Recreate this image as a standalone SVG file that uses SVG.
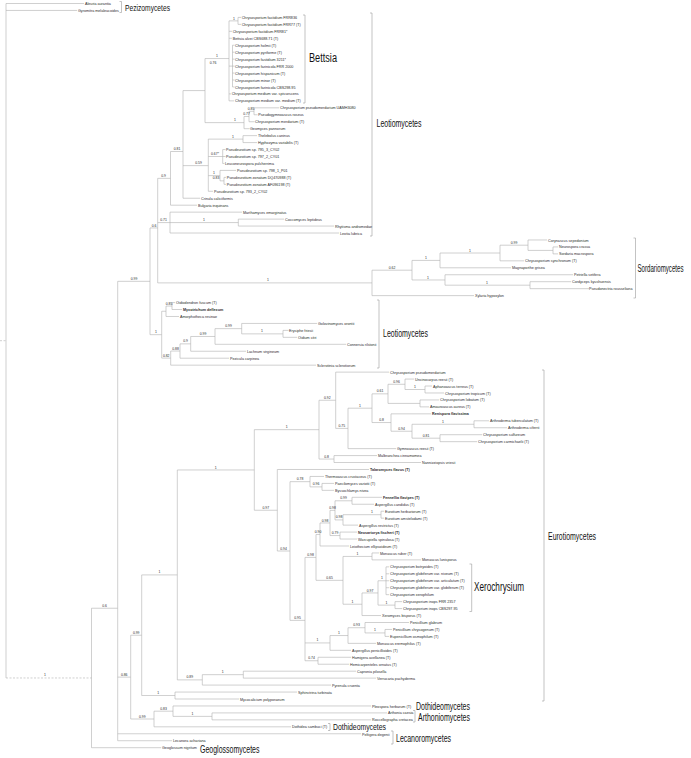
<svg xmlns="http://www.w3.org/2000/svg" width="691" height="758" viewBox="0 0 691 758">
<style>
text{font-family:"Liberation Sans",Arial,sans-serif;fill:#2a2a2a}
.t{font-size:3.7px}
.b{font-weight:bold}
.s{font-size:3.4px;fill:#555}
.c{font-size:10px;fill:#111}
.cl{font-size:12px;fill:#111}
.e{fill:none;stroke:#b0b0b0;stroke-width:0.6}
.k{fill:none;stroke:#9a9a9a;stroke-width:0.6}
</style>
<rect width="691" height="758" fill="#fff"/>
<g id="connectors">
<path class="e" d="M6,3.5V677.97M6,3.5H84M6,10.46H77
M91.5,608.24V747.69M91.5,608.24H117.7M91.5,747.69H161
M117.7,281.32V740.73M117.7,281.32H150M117.7,677.12H130.7M117.7,733.78H361M117.7,740.73H172
M150,227.95V334.68M150,227.95H157.7M150,334.68H161.7
M157.7,178.35V282.9M157.7,178.35H170.5M157.7,222.59H170M157.7,282.9H372
M170.5,151.49V205.2M170.5,151.49H183M170.5,205.2H197
M183,90.59V198.24M183,90.59H205M183,165.64H208.3M183,198.24H200
M205,58.56V122.61M205,58.56H229M205,122.61H244
M229,20.89V100.87M229,20.89H238M229,31.32H232M229,38.28H232M229,66.1H232.5M229,93.92H231M229,100.87H234
M238,17.41V24.37M238,17.41H241M238,24.37H241
M232.5,45.23V86.96M232.5,45.23H234.5M232.5,52.19H234.5M232.5,59.14H234.5M232.5,66.1H234.5M232.5,73.05H234.5M232.5,80.01H234.5M232.5,86.96H234.5
M244,116.52V128.69M244,116.52H249M244,128.69H249.5
M249,111.31V121.74M249,111.31H254M249,121.74H254.5
M254,107.83V114.78M254,107.83H279M254,114.78H257.5
M208.3,139.12V191.29M208.3,139.12H243M208.3,156.51H222.7M208.3,175.64H220M208.3,191.29H213
M243,135.65V142.6M243,135.65H257M243,142.6H257
M222.7,149.56V163.47M222.7,149.56H225.5M222.7,156.51H225.5M222.7,163.47H224.5
M220,170.42V180.86M220,170.42H236M220,180.86H224
M224,177.38V184.33M224,177.38H226M224,184.33H226
M170,212.15V233.02M170,212.15H242M170,222.59H238.3M170,233.02H339
M238.3,219.11V226.06M238.3,219.11H284M238.3,226.06H334
M372,270.19V295.61M372,270.19H412M372,295.61H474
M412,260.41V279.97M412,260.41H440M412,279.97H445
M440,253.02V267.79M440,253.02H500M440,267.79H511
M500,245.19V260.84M500,245.19H528M500,260.84H524
M528,239.97V250.41M528,239.97H547M528,250.41H553
M553,246.93V253.88M553,246.93H558M553,253.88H558
M445,274.75V285.18M445,274.75H573M445,285.18H530
M530,281.7V288.66M530,281.7H571M530,288.66H589
M161.7,311.26V358.1M161.7,311.26H166M161.7,358.1H170.7
M166,306.05V316.48M166,306.05H172M166,316.48H179
M172,302.57V309.52M172,302.57H175M172,309.52H182
M170.7,351.04V365.16M170.7,351.04H180M170.7,365.16H316
M180,343.86V358.21M180,343.86H190.7M180,358.21H229
M190.7,336.48V351.25M190.7,336.48H215M190.7,351.25H246
M215,328.65V344.3M215,328.65H241.7M215,344.3H346
M241.7,323.43V333.87M241.7,323.43H317M241.7,333.87H283
M283,330.39V337.34M283,330.39H288.5M283,337.34H297
M130.7,635.23V719M130.7,635.23H141.7M130.7,719H154
M141.7,574.92V695.53M141.7,574.92H177.3M141.7,695.53H175
M175,692.05V699M175,692.05H297M175,699H239
M177.3,469.96V679.88M177.3,469.96H254.3M177.3,679.88H202.3
M202.3,674.66V685.09M202.3,674.66H243.3M202.3,685.09H331
M243.3,671.18V678.14M243.3,671.18H356M243.3,678.14H376
M254.3,429.66V510.25M254.3,429.66H319M254.3,510.25H277.3
M319,400.26V459.06M319,400.26H335.7M319,459.06H334
M335.7,372.12V428.41M335.7,372.12H389M335.7,428.41H348
M348,408.2V448.62M348,408.2H372M348,448.62H396
M372,393.85V422.54M372,393.85H388M372,422.54H391
M388,384.29V403.42M388,384.29H405M388,403.42H420
M405,379.07V389.51M405,379.07H414M405,389.51H425
M425,386.03V392.98M425,386.03H432M425,392.98H444
M420,399.94V406.89M420,399.94H439M420,406.89H429
M391,413.85V431.24M391,413.85H431M391,431.24H412
M412,424.28V438.19M412,424.28H474M412,438.19H440
M474,420.8V427.76M474,420.8H489M474,427.76H507
M440,434.71V441.67M440,434.71H482M440,441.67H477
M334,455.58V462.53M334,455.58H377M334,462.53H421
M277.3,469.49V551.01M277.3,469.49H369M277.3,551.01H290
M290,481.66V620.36M290,481.66H310M290,620.36H305
M310,476.44V486.88M310,476.44H324M310,486.88H322
M322,483.4V490.35M322,483.4H334M322,490.35H334
M305,557.4V660.75M305,557.4H316M305,642.93H330M305,660.75H318
M316,534.47V580.34M316,534.47H320M316,580.34H343
M320,522.96V545.99M320,522.96H330M320,545.99H349
M330,510.35V535.56M330,510.35H335M330,535.56H340
M335,500.79V519.91M335,500.79H352M335,519.91H343
M352,497.31V504.26M352,497.31H382M352,504.26H374
M343,514.7V525.13M343,514.7H381M343,525.13H358
M381,511.22V518.17M381,511.22H384M381,518.17H384
M340,532.08V539.04M340,532.08H357M340,539.04H357
M343,556.43V604.24M343,556.43H372M343,604.24H362
M372,552.95V559.9M372,552.95H379M372,559.9H421
M362,592.94V615.54M362,592.94H378M362,615.54H381
M378,580.77V605.11M378,580.77H386M378,605.11H395
M386,566.86V594.68M386,566.86H389M386,573.81H389M386,580.77H389M386,587.72H389M386,594.68H389
M395,601.63V608.59M395,601.63H402M395,608.59H402
M330,635.54V650.32M330,635.54H348M330,650.32H351
M348,627.72V643.36M348,627.72H365M348,643.36H376
M365,622.5V632.93M365,622.5H409M365,632.93H385
M385,629.45V636.41M385,629.45H392M385,636.41H389
M318,657.27V664.23M318,657.27H351M318,664.23H349
M154,711.18V726.82M154,711.18H173M154,726.82H291
M173,705.96V716.39M173,705.96H371M173,716.39H212
M212,712.91V719.87M212,712.91H387M212,719.87H371"/>
<path class="e" stroke-dasharray="2,1.5" d="M6,677.97H91.5M0,340.7H6"/>
</g>
<g id="brackets">
<path class="k" d="M119.5,1.5H121.5V12.5H119.5M303,15H305V103H303M370,13H372V236H370M633.5,238H635.5V298H633.5M377,300H379V368H377M542,370H544V701H542M469.5,564H471.7V611.5H469.5M413,710.5H415V722H413M328,723.5H330V730.5H328M391,731H393V744H391"/>
</g>
<g id="support-values" class="s" text-anchor="middle">
<text x="45" y="676.4">1</text>
<text x="234" y="19.5">1</text>
<text x="217" y="56.5">1</text>
<text x="213" y="63.5">0.76</text>
<text x="251" y="109.8">0.85</text>
<text x="246.5" y="115">0.77</text>
<text x="235" y="121.1">1</text>
<text x="233" y="137.6">1</text>
<text x="215" y="155">0.67*</text>
<text x="214" y="174.1">1</text>
<text x="216" y="179.4">0.83</text>
<text x="198.5" y="164.1">0.59</text>
<text x="177" y="150">0.81</text>
<text x="163.5" y="176.9">0.9</text>
<text x="163.5" y="221.1">0.71</text>
<text x="204" y="221.1">1</text>
<text x="154" y="226.5">0.6</text>
<text x="268" y="281.4">1</text>
<text x="392" y="268.7">0.62</text>
<text x="426" y="258.9">1</text>
<text x="470" y="251.5">1</text>
<text x="514" y="243.7">0.99</text>
<text x="428" y="278.5">1</text>
<text x="487" y="283.7">1</text>
<text x="134" y="279.8">0.99</text>
<text x="156" y="333.2">1</text>
<text x="169" y="304.6">0.85</text>
<text x="166.2" y="356.6">0.82</text>
<text x="175.5" y="349.5">0.88</text>
<text x="185.5" y="342.4">0.9</text>
<text x="203" y="335">0.99</text>
<text x="228.5" y="327.2">0.99</text>
<text x="262" y="332.4">1</text>
<text x="104.6" y="606.8">0.6</text>
<text x="124.2" y="675.6">0.86</text>
<text x="136.2" y="633.8">0.99</text>
<text x="159.5" y="573.4">1</text>
<text x="158.3" y="694">1</text>
<text x="189.8" y="678.4">0.89</text>
<text x="222.8" y="673.2">1</text>
<text x="215.8" y="468.5">1</text>
<text x="286.7" y="428.2">1</text>
<text x="265.8" y="508.8">0.97</text>
<text x="327.3" y="398.8">0.92</text>
<text x="326.5" y="457.6">0.8</text>
<text x="341.8" y="427">0.75</text>
<text x="360" y="406.7">1</text>
<text x="380" y="392.4">0.61</text>
<text x="396.5" y="382.8">0.96</text>
<text x="415" y="388">1</text>
<text x="381.5" y="421">0.8</text>
<text x="401.5" y="429.8">0.94</text>
<text x="443" y="422.8">1</text>
<text x="426" y="436.7">0.81</text>
<text x="300" y="480.2">0.78</text>
<text x="316" y="485.4">0.96</text>
<text x="283.6" y="549.5">0.94</text>
<text x="310.5" y="556">0.98</text>
<text x="318" y="533">0.90</text>
<text x="325" y="521.5">0.98</text>
<text x="332.5" y="508.9">0.98</text>
<text x="343.5" y="499.3">0.99</text>
<text x="339" y="518.4">0.98</text>
<text x="372" y="513.2">1</text>
<text x="335" y="534">0.79</text>
<text x="357.5" y="555">1</text>
<text x="329.5" y="578.8">0.65</text>
<text x="352.5" y="602.8">1</text>
<text x="370" y="591.5">0.97</text>
<text x="382" y="579.3">1</text>
<text x="386.5" y="603.6">1</text>
<text x="297.5" y="618.9">0.95</text>
<text x="317.5" y="641.4">1</text>
<text x="339" y="634">1</text>
<text x="356.5" y="626.2">0.93</text>
<text x="375" y="631.4">1</text>
<text x="311.5" y="659.3">0.74</text>
<text x="142.3" y="717.5">0.99</text>
<text x="163.5" y="709.7">0.83</text>
<text x="192.5" y="714.9">1</text>
</g>
<g id="class-labels">
<text class="c" x="125" y="11" style="font-size:9px" textLength="45" lengthAdjust="spacingAndGlyphs">Pezizomycetes</text>
<text class="cl" x="309" y="62" textLength="28" lengthAdjust="spacingAndGlyphs">Bettsia</text>
<text class="c" x="376.5" y="127" textLength="45" lengthAdjust="spacingAndGlyphs">Leotiomycetes</text>
<text class="c" x="637.5" y="271.5" textLength="46" lengthAdjust="spacingAndGlyphs">Sordariomycetes</text>
<text class="c" x="383" y="336.5" textLength="45" lengthAdjust="spacingAndGlyphs">Leotiomycetes</text>
<text class="c" x="548" y="540" textLength="48" lengthAdjust="spacingAndGlyphs">Eurotiomycetes</text>
<text class="cl" x="474" y="591" textLength="50" lengthAdjust="spacingAndGlyphs">Xerochrysium</text>
<text class="c" x="416" y="709.5" textLength="54" lengthAdjust="spacingAndGlyphs">Dothideomycetes</text>
<text class="c" x="418" y="720.5" textLength="52" lengthAdjust="spacingAndGlyphs">Arthoniomycetes</text>
<text class="c" x="333" y="730.2" style="font-size:9.5px" textLength="53" lengthAdjust="spacingAndGlyphs">Dothideomycetes</text>
<text class="c" x="396" y="741.5" textLength="55" lengthAdjust="spacingAndGlyphs">Lecanoromycetes</text>
<text class="c" x="200" y="752.5" textLength="59.5" lengthAdjust="spacingAndGlyphs">Geoglossomycetes</text>
</g>
<g id="taxa" class="t">
<g id="n000"><text x="85" y="5">Aleuria aurantia</text></g>
<g id="n001"><text x="78" y="12">Gyromitra melaleucoides</text></g>
<g id="n002"><text x="241.7" y="18.9">Chrysosporium fastidium FRR836</text></g>
<g id="n003"><text x="241.7" y="25.9">Chrysosporium fastidium FRR77 (T)</text></g>
<g id="n004"><text x="232.7" y="32.8">Chrysosporium fastidium FRR81*</text></g>
<g id="n005"><text x="232.7" y="39.8">Bettsia alvei CBS688.71 (T)</text></g>
<g id="n006"><text x="235" y="46.7">Chrysosporium holmii (T)</text></g>
<g id="n007"><text x="235" y="53.7">Chrysosporium pyriforme (T)</text></g>
<g id="n008"><text x="235" y="60.6">Chrysosporium fastidium 3211*</text></g>
<g id="n009"><text x="235" y="67.6">Chrysosporium farinicola FRR 2000</text></g>
<g id="n010"><text x="235" y="74.6">Chrysosporium hispanicum (T)</text></g>
<g id="n011"><text x="235" y="81.5">Chrysosporium minor (T)</text></g>
<g id="n012"><text x="235" y="88.5">Chrysosporium farinicola CBS298.95</text></g>
<g id="n013"><text x="231.7" y="95.4">Chrysosporium medium var. spissescens</text></g>
<g id="n014"><text x="235" y="102.4">Chrysosporium medium var. medium (T)</text></g>
<g id="n015"><text x="280" y="109.3">Chrysosporium pseudomerdarium UAMH3080</text></g>
<g id="n016"><text x="258.3" y="116.3">Pseudogymnoascus roseus</text></g>
<g id="n017"><text x="255" y="123.2">Chrysosporium merdarium (T)</text></g>
<g id="n018"><text x="250" y="130.2">Geomyces pannorum</text></g>
<g id="n019"><text x="258" y="137.2">Thelebolus caninus</text></g>
<g id="n020"><text x="258" y="144.1">Hyphozyma variabilis (T)</text></g>
<g id="n021"><text x="226" y="151.1">Pseudeurotium sp. 795_3_CY02</text></g>
<g id="n022"><text x="226" y="158">Pseudeurotium sp. 797_2_CY01</text></g>
<g id="n023"><text x="225" y="165">Leuconeurospora pulcherrima</text></g>
<g id="n024"><text x="237" y="171.9">Pseudeurotium sp. 798_1_P01</text></g>
<g id="n025"><text x="226.7" y="178.9">Pseudeurotium zonatum DQ470988 (T)</text></g>
<g id="n026"><text x="226.7" y="185.8">Pseudeurotium zonatum AF096198 (T)</text></g>
<g id="n027"><text x="214" y="192.8">Pseudeurotium sp. 793_2_CY02</text></g>
<g id="n028"><text x="201" y="199.7">Crinula caliciiformis</text></g>
<g id="n029"><text x="198" y="206.7">Bulgaria inquinans</text></g>
<g id="n030"><text x="243" y="213.7">Marthamyces emarginatus</text></g>
<g id="n031"><text x="285" y="220.6">Coccomyces leptideus</text></g>
<g id="n032"><text x="335" y="227.6">Rhytisma andromedae</text></g>
<g id="n033"><text x="340" y="234.5">Leotia lubrica</text></g>
<g id="n034"><text x="548" y="241.5">Corynascus sepedonium</text></g>
<g id="n035"><text x="559" y="248.4">Neurospora crassa</text></g>
<g id="n036"><text x="559" y="255.4">Sordaria macrospora</text></g>
<g id="n037"><text x="525" y="262.3">Chrysosporium synchronum (T)</text></g>
<g id="n038"><text x="512" y="269.3">Magnaporthe grisea</text></g>
<g id="n039"><text x="574" y="276.3">Petriella setifera</text></g>
<g id="n040"><text x="572" y="283.2">Cordyceps kyushuensis</text></g>
<g id="n041"><text x="589" y="290.2">Pseudonectria rousseliana</text></g>
<g id="n042"><text x="475" y="297.1">Xylaria hypoxylon</text></g>
<g id="n043"><text x="176" y="304.1">Oidiodendron fuscum (T)</text></g>
<g id="n044"><text class="b" x="183" y="311">Myxotrichum deflexum</text></g>
<g id="n045"><text x="180" y="318">Amorphotheca resinae</text></g>
<g id="n046"><text x="318" y="324.9">Golovinomyces orontii</text></g>
<g id="n047"><text x="289" y="331.9">Erysiphe friesii</text></g>
<g id="n048"><text x="298" y="338.8">Oidium citri</text></g>
<g id="n049"><text x="347" y="345.8">Connersia rilstonii</text></g>
<g id="n050"><text x="247" y="352.8">Lachnum virgineum</text></g>
<g id="n051"><text x="230" y="359.7">Pezicula carpinea</text></g>
<g id="n052"><text x="317" y="366.7">Sclerotinia sclerotiorum</text></g>
<g id="n053"><text x="390" y="373.6">Chrysosporium pseudomerdarium</text></g>
<g id="n054"><text x="415" y="380.6">Uncinocarpus reesii (T)</text></g>
<g id="n055"><text x="433" y="387.5">Aphanoascus terreus (T)</text></g>
<g id="n056"><text x="445" y="394.5">Chrysosporium tropicum (T)</text></g>
<g id="n057"><text x="440" y="401.4">Chrysosporium lobatum (T)</text></g>
<g id="n058"><text x="430" y="408.4">Amauroascus aureus (T)</text></g>
<g id="n059"><text class="b" x="432" y="415.3">Renispora flavissima</text></g>
<g id="n060"><text x="490" y="422.3">Arthroderma tuberculatum (T)</text></g>
<g id="n061"><text x="508" y="429.3">Arthroderma ciferrii</text></g>
<g id="n062"><text x="483" y="436.2">Chrysosporium sulfureum</text></g>
<g id="n063"><text x="478" y="443.2">Chrysosporium carmichaelii (T)</text></g>
<g id="n064"><text x="397" y="450.1">Gymnoascus reesii (T)</text></g>
<g id="n065"><text x="378" y="457.1">Malbranchea cinnamomea</text></g>
<g id="n066"><text x="422" y="464">Nannizziopsis vriesii</text></g>
<g id="n067"><text class="b" x="370" y="471">Talaromyces flavus (T)</text></g>
<g id="n068"><text x="325" y="477.9">Thermoascus crustaceus (T)</text></g>
<g id="n069"><text x="335" y="484.9">Paecilomyces variotii (T)</text></g>
<g id="n070"><text x="335" y="491.9">Byssochlamys nivea</text></g>
<g id="n071"><text class="b" x="383" y="498.8">Fennellia flavipes (T)</text></g>
<g id="n072"><text x="375" y="505.8">Aspergillus candidus (T)</text></g>
<g id="n073"><text x="385" y="512.7">Eurotium herbariorum (T)</text></g>
<g id="n074"><text x="385" y="519.7">Eurotium amstelodami (T)</text></g>
<g id="n075"><text x="359" y="526.6">Aspergillus restrictus (T)</text></g>
<g id="n076"><text class="b" x="358" y="533.6">Neosartorya fischeri (T)</text></g>
<g id="n077"><text x="358" y="540.5">Warcupiella spinulosa (T)</text></g>
<g id="n078"><text x="350" y="547.5">Leiothecium ellipsoideum (T)</text></g>
<g id="n079"><text x="380" y="554.5">Monascus ruber (T)</text></g>
<g id="n080"><text x="422" y="561.4">Monascus lunisporus</text></g>
<g id="n081"><text x="390" y="568.4">Chrysosporium botryoides (T)</text></g>
<g id="n082"><text x="390" y="575.3">Chrysosporium globiferum var. niveum (T)</text></g>
<g id="n083"><text x="390" y="582.3">Chrysosporium globiferum var. articulatum (T)</text></g>
<g id="n084"><text x="390" y="589.2">Chrysosporium globiferum var. globiferum (T)</text></g>
<g id="n085"><text x="390" y="596.2">Chrysosporium xerophilum</text></g>
<g id="n086"><text x="403" y="603.1">Chrysosporium inops FRR 2357</text></g>
<g id="n087"><text x="403" y="610.1">Chrysosporium inops CBS297.95</text></g>
<g id="n088"><text x="382" y="617">Xeromyces bisporus (T)</text></g>
<g id="n089"><text x="410" y="624">Penicillium glabrum</text></g>
<g id="n090"><text x="393" y="631">Penicillium chrysogenum (T)</text></g>
<g id="n091"><text x="390" y="637.9">Eupenicillium osmophilum (T)</text></g>
<g id="n092"><text x="377" y="644.9">Monascus eremophilus (T)</text></g>
<g id="n093"><text x="352" y="651.8">Aspergillus penicillioides (T)</text></g>
<g id="n094"><text x="352" y="658.8">Hamigera avellanea (T)</text></g>
<g id="n095"><text x="350" y="665.7">Hemicarpenteles ornatus (T)</text></g>
<g id="n096"><text x="357" y="672.7">Capronia pilosella</text></g>
<g id="n097"><text x="377" y="679.6">Verrucaria pachyderma</text></g>
<g id="n098"><text x="332" y="686.6">Pyrenula cruenta</text></g>
<g id="n099"><text x="298" y="693.6">Sphinctrina turbinata</text></g>
<g id="n100"><text x="240" y="700.5">Mycocalicium polyporaeum</text></g>
<g id="n101"><text x="372" y="707.5">Pleospora herbarum (T)</text></g>
<g id="n102"><text x="388" y="714.4">Arthonia caesia</text></g>
<g id="n103"><text x="372" y="721.2">Roccellographa cretacea</text></g>
<g id="n104"><text x="292" y="728.3">Dothidea sambuci (T)</text></g>
<g id="n105"><text x="362" y="735.6">Peltigera degenii</text></g>
<g id="n106"><text x="173" y="742.2">Lecanora achariana</text></g>
<g id="n107"><text x="162" y="749.2">Geoglossum nigritum</text></g>
</g>
</svg>
